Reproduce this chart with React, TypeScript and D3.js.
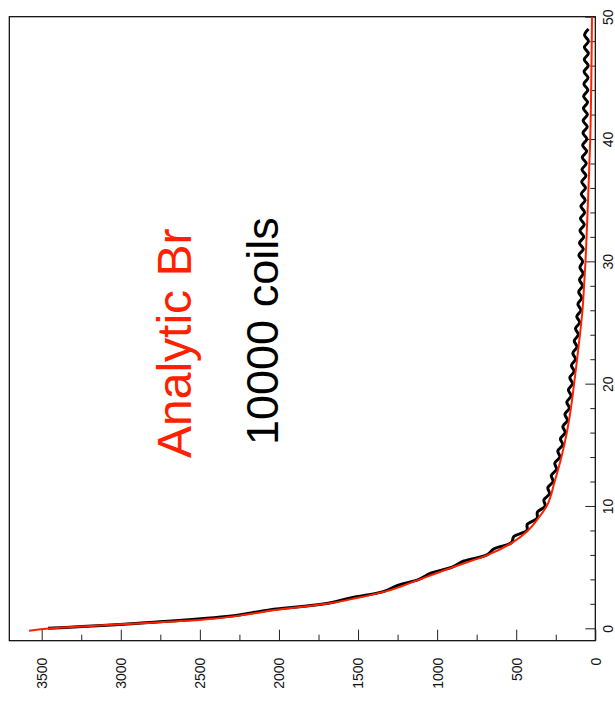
import React, { useRef, useEffect } from 'react';
import * as d3 from 'd3';

// analytic Br (red): position along the axis and field value
const analyticPos = [-0.2, 0, 0.33, 0.68, 1.17, 1.5, 2, 2.5, 3, 4, 5, 6, 7, 8, 9, 10, 12, 14, 16, 18, 20, 22, 24, 26, 28, 30, 33, 36, 40, 45, 50];
const analyticBr = [3580, 3440, 3004, 2504, 2183, 2025, 1700, 1500, 1330, 1110, 900, 680, 525, 425, 360, 307, 257, 214, 180, 154, 134, 115, 97, 81, 71, 62, 52, 43, 32, 25, 21];

// 10000 coils (black), sampled every half unit: wavy around the analytic curve
const coilsPos = [
  0, 0.5, 1, 1.5, 2, 2.5, 3, 3.5, 4, 4.5, 5, 5.5, 6, 6.5, 7, 7.5, 8, 8.5, 9, 9.5,
  10, 10.5, 11, 11.5, 12, 12.5, 13, 13.5, 14, 14.5, 15, 15.5, 16, 16.5, 17, 17.5, 18, 18.5, 19, 19.5,
  20, 20.5, 21, 21.5, 22, 22.5, 23, 23.5, 24, 24.5, 25, 25.5, 26, 26.5, 27, 27.5, 28, 28.5, 29, 29.5,
  30, 30.5, 31, 31.5, 32, 32.5, 33, 33.5, 34, 34.5, 35, 35.5, 36, 36.5, 37, 37.5, 38, 38.5, 39, 39.5,
  40, 40.5, 41, 41.5, 42, 42.5, 43, 43.5, 44, 44.5, 45, 45.5, 46, 46.5, 47, 47.5, 48, 48.5, 49,
];
const coilsBr = [
  3460, 2790, 2300, 2060, 1710, 1540, 1340, 1250, 1115, 1040, 905, 830, 685, 640, 530, 515, 432, 430, 368, 366,
  317, 325, 290, 300, 267, 278, 245, 256, 224, 237, 206, 220, 190, 205, 176, 192, 164, 180, 153, 170,
  144, 161, 134, 151, 125, 142, 116, 133, 107, 125, 99, 117, 91, 110, 86, 105, 81, 100, 77, 97,
  80, 104, 76, 100, 73, 97, 70, 94, 67, 91, 64, 89, 62, 86, 59, 84, 57, 82, 55, 80,
  53, 78, 51, 77, 50, 75, 49, 74, 47, 72, 46, 71, 45, 70, 44, 69, 43, 68, 43,
];

const brMajor = [0, 500, 1000, 1500, 2000, 2500, 3000, 3500];
const brMinor = [250, 750, 1250, 1750, 2250, 2750, 3250];
const posMajor = [0, 10, 20, 30, 40, 50];
const posMinor = [2, 4, 6, 8, 12, 14, 16, 18, 22, 24, 26, 28, 32, 34, 36, 38, 42, 44, 46, 48];

const RED = '#ff2000';

const App = () => {
  const svgRef = useRef(null);

  const width = 615;
  const height = 713;
  const frame = { left: 9.3, right: 595.3, top: 16.7, bottom: 640.7 };

  useEffect(() => {
    const svg = d3.select(svgRef.current);
    svg.selectAll('*').remove();

    // the chart is turned on its side: Br runs right-to-left, position runs bottom-to-top
    const v = d3.scaleLinear().domain([0, 3500]).range([frame.right, 41.7]);
    const p = d3.scaleLinear().domain([0, 50]).range([628.3, frame.top]);

    svg.append('defs').append('clipPath').attr('id', 'plotclip')
      .append('rect')
      .attr('x', frame.left).attr('y', frame.top)
      .attr('width', frame.right - frame.left)
      .attr('height', frame.bottom - frame.top);

    svg.append('rect')
      .attr('x', frame.left).attr('y', frame.top)
      .attr('width', frame.right - frame.left)
      .attr('height', frame.bottom - frame.top)
      .attr('fill', 'none')
      .attr('stroke', '#000')
      .attr('stroke-width', 1.2);

    const font = "'Liberation Sans', Arial, Helvetica, sans-serif";

    // bottom axis (Br)
    const gb = svg.append('g').attr('transform', `translate(0,${frame.bottom})`);
    gb.call(d3.axisBottom(v).tickValues(brMajor).tickSize(-11).tickFormat(d3.format('d')));
    gb.selectAll('text')
      .attr('transform', 'rotate(-90)')
      .attr('x', -17).attr('y', 0).attr('dy', '0.35em')
      .attr('text-anchor', 'end')
      .style('font-family', font).style('font-size', '14px').attr('fill', '#111');
    const gbm = svg.append('g').attr('transform', `translate(0,${frame.bottom})`);
    gbm.call(d3.axisBottom(v).tickValues(brMinor).tickSize(-6).tickFormat(() => ''));
    [gb, gbm].forEach(g => {
      g.select('.domain').remove();
      g.selectAll('line').attr('stroke', '#222');
    });

    // right axis (position)
    const gr = svg.append('g').attr('transform', `translate(${frame.right},0)`);
    gr.call(d3.axisRight(p).tickValues(posMajor).tickSize(-10).tickFormat(d3.format('d')));
    gr.selectAll('text')
      .attr('transform', 'rotate(-90)')
      .attr('x', 0).attr('y', 12.7).attr('dy', '0.35em')
      .attr('text-anchor', 'middle')
      .style('font-family', font).style('font-size', '14px').attr('fill', '#111');
    const grm = svg.append('g').attr('transform', `translate(${frame.right},0)`);
    grm.call(d3.axisRight(p).tickValues(posMinor).tickSize(-5).tickFormat(() => ''));
    [gr, grm].forEach(g => {
      g.select('.domain').remove();
      g.selectAll('line').attr('stroke', '#222');
    });

    const plot = svg.append('g').attr('clip-path', 'url(#plotclip)');

    const coilsLine = d3.line()
      .x(i => v(coilsBr[i]))
      .y(i => p(coilsPos[i]))
      .curve(d3.curveCatmullRom);

    plot.append('path')
      .attr('d', coilsLine(d3.range(coilsPos.length)))
      .attr('fill', 'none')
      .attr('stroke', '#000')
      .attr('stroke-width', 3);

    const analyticLine = d3.line()
      .x(i => v(analyticBr[i]))
      .y(i => p(analyticPos[i]))
      .curve(d3.curveMonotoneY);

    plot.append('path')
      .attr('d', analyticLine(d3.range(analyticPos.length)))
      .attr('fill', 'none')
      .attr('stroke', RED)
      .attr('stroke-width', 2);

    svg.append('text')
      .attr('transform', 'translate(191,458) rotate(-90)')
      .style('font-family', font).style('font-size', '48px')
      .attr('fill', RED)
      .text('Analytic Br');

    svg.append('text')
      .attr('transform', 'translate(278,445) rotate(-90)')
      .style('font-family', font).style('font-size', '45px')
      .attr('fill', '#000')
      .text('10000 coils');
  }, []);

  return (
    <div style={{ position: 'absolute', left: 0, top: 0, background: '#fff' }}>
      <svg ref={svgRef} width={width} height={height}></svg>
    </div>
  );
};

export default App;
